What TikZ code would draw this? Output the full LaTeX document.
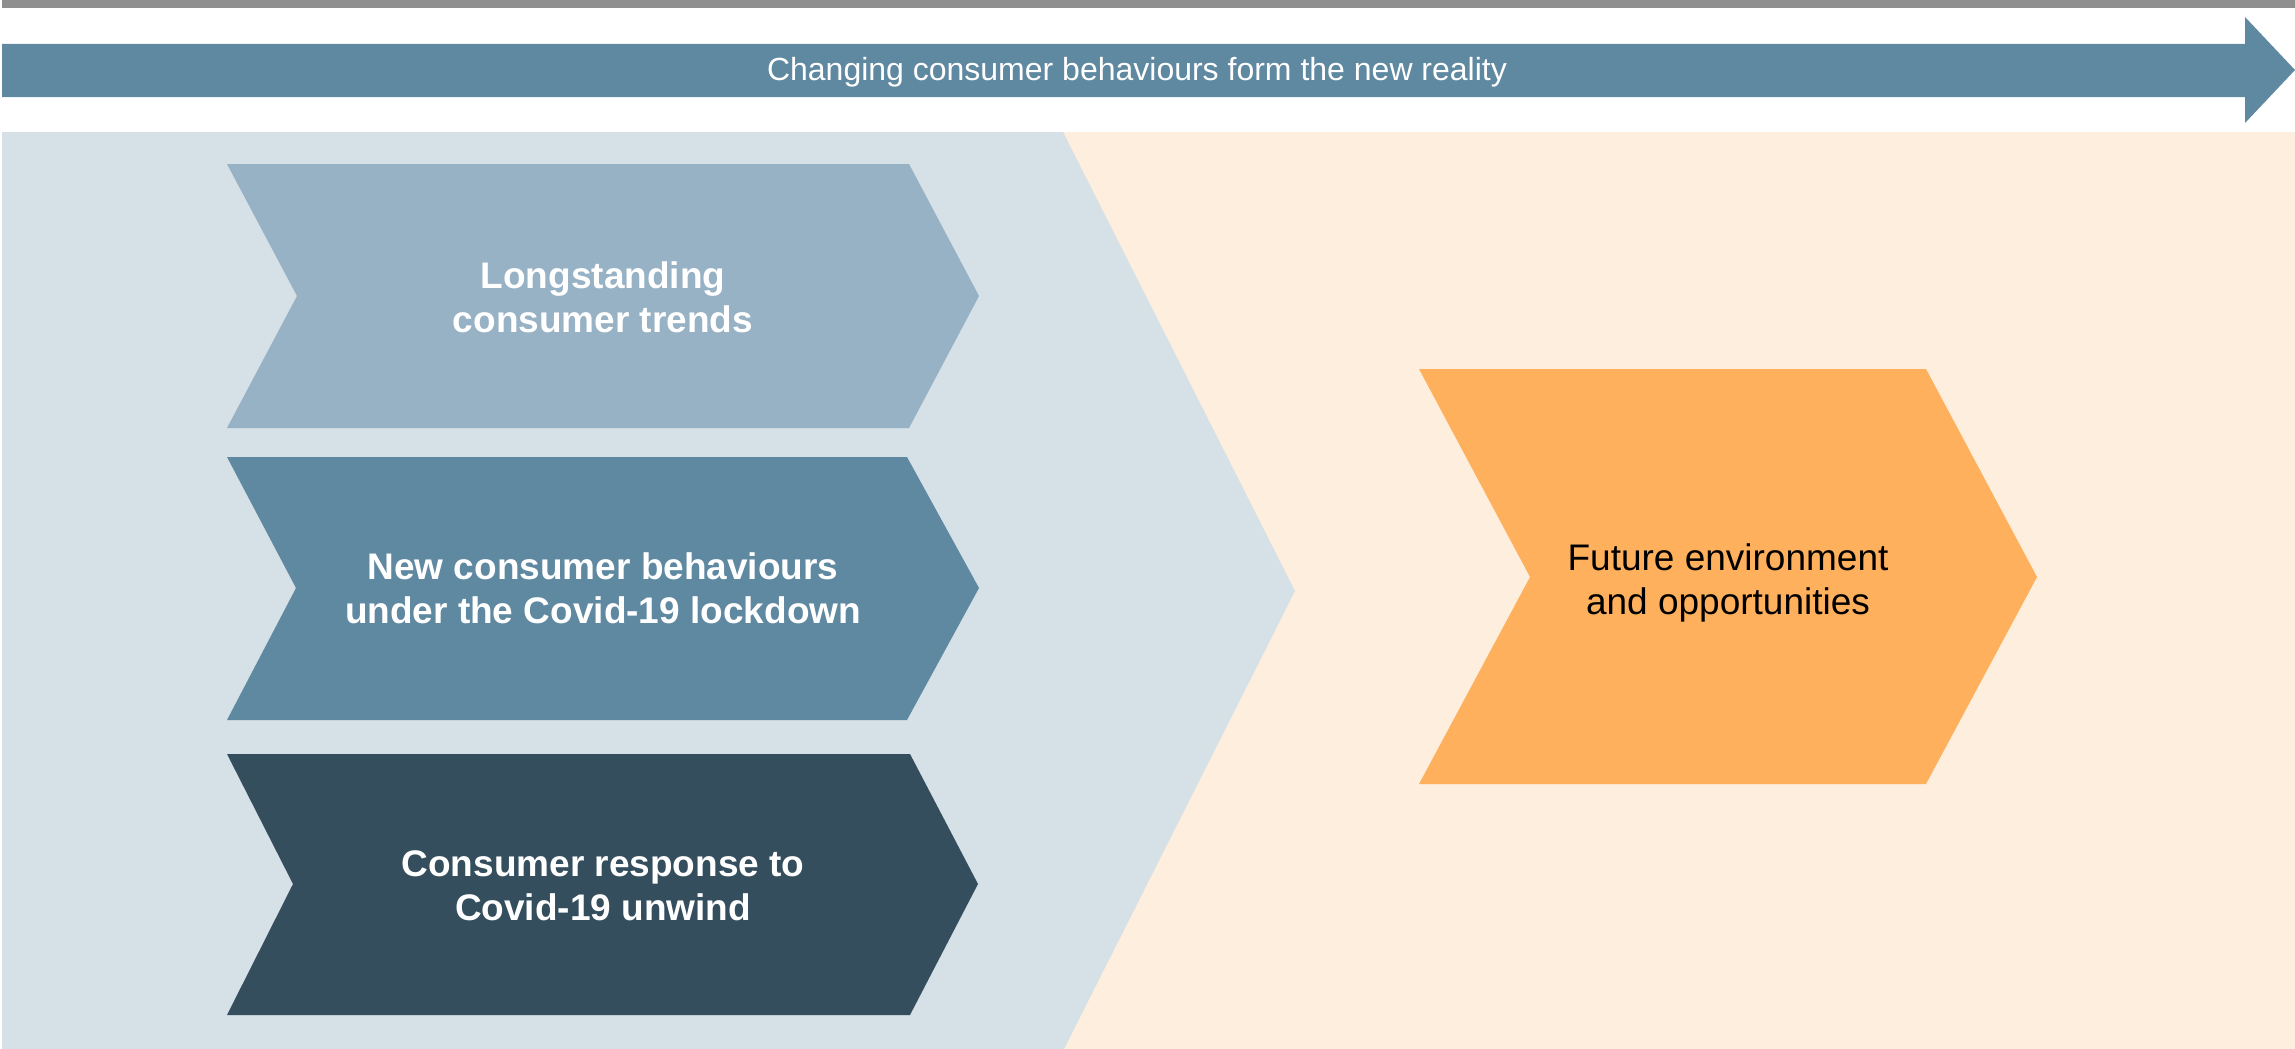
\documentclass[tikz,border=0pt]{standalone}
\usepackage{fontspec}
\setmainfont{Liberation Sans}
\usepackage{tikz}
\usetikzlibrary{positioning}
\definecolor{rulegray}{HTML}{8F8F8F}
\definecolor{steelblue}{HTML}{5F88A1}
\definecolor{paleblue}{HTML}{D6E0E7}
\definecolor{peach}{HTML}{FDEEDE}
\definecolor{lightsteel}{HTML}{97B1C5}
\definecolor{darkslate}{HTML}{344E5E}
\definecolor{amber}{HTML}{FFB05C}
\tikzstyle{bandtext}=[text=white,font=\fontsize{32}{36}\selectfont]
\tikzstyle{chevtext}=[align=center,text=white,font=\fontsize{37}{44}\selectfont\bfseries]
\tikzstyle{futuretext}=[align=center,text=black,font=\fontsize{37}{44}\selectfont]

\begin{document}
\begin{tikzpicture}[x=1pt,y=-1pt]
\useasboundingbox (0,0) rectangle (2295,1049);
%rule and big arrow on top
\fill[rulegray] (2,0) rectangle (2295,8);
\fill[steelblue] (2,44) -- (2245,44) -- (2245,17) -- (2295,70) -- (2245,123) -- (2245,97) -- (2,97) -- cycle;
\node[bandtext] (band) at (1137,72) {Changing consumer behaviours form the new reality};
%backgrounds
\fill[peach] (1063,132) rectangle (2295,1049);
\fill[paleblue] (2,132) -- (1063,132) -- (1295,591) -- (1064,1049) -- (2,1049) -- cycle;
%chevrons
\fill[lightsteel] (227,164) -- (909,164) -- (979,296) -- (909,428) -- (227,428) -- (297,296) -- cycle;
\fill[steelblue] (227,457) -- (907,457) -- (979,588) -- (907,720) -- (227,720) -- (296,588) -- cycle;
\fill[darkslate] (227,754) -- (910,754) -- (978,884) -- (910,1015) -- (227,1015) -- (293,884) -- cycle;
\fill[amber] (1419,369) -- (1926,369) -- (2037,577) -- (1926,784) -- (1419,784) -- (1530,577) -- cycle;
\node[chevtext] (longstanding) at (603,297) {Longstanding\\consumer trends};
\node[chevtext] (lockdown) at (603,588) {New consumer behaviours\\under the Covid-19 lockdown};
\node[chevtext] (unwind) at (603,886) {Consumer response to\\Covid-19 unwind};
\node[futuretext] (future) at (1728,583) {Future environment\\and opportunities};
\end{tikzpicture}
\end{document}
